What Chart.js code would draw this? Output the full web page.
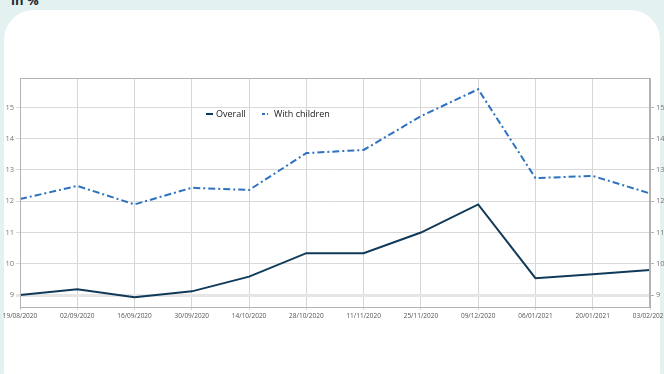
<!DOCTYPE html>
<html>
<head>
  <meta charset="UTF-8">
  <title>Overall / With children</title>
  <script src="https://cdn.jsdelivr.net/npm/chart.js@4/dist/chart.umd.min.js"></script>
  <style>
    html, body { margin: 0; padding: 0; }
    body { width: 664px; height: 374px; overflow: hidden; background: #e3f1f1; position: relative;
           font-family: "Open Sans", sans-serif; }
    #card { position: absolute; left: 4px; top: 10px; width: 656px; height: 390px;
            background: #fff; border-radius: 30px; }
    #title { position: absolute; left: 11px; top: -9px; font-size: 13px; font-weight: bold; color: #1d2b33; }
    #wrap { position: absolute; left: 0; top: 0; width: 664px; height: 374px; }
  </style>
</head>
<body>
<div id="title">in %</div>
<div id="card"></div>
<div id="wrap"><canvas id="myChart" width="664" height="374"></canvas></div>
<script>
  // dates (fortnightly)
  var labels = ["19/08/2020", "02/09/2020", "16/09/2020", "30/09/2020", "14/10/2020", "28/10/2020",
                "11/11/2020", "25/11/2020", "09/12/2020", "06/01/2021", "20/01/2021", "03/02/2021"];
  var overall = [9.0, 9.19, 8.93, 9.12, 9.59, 10.34, 10.34, 11.0, 11.9, 9.54, 9.67, 9.8];
  var withChildren = [12.07, 12.49, 11.9, 12.43, 12.36, 13.54, 13.64, 14.72, 15.58, 12.74, 12.81, 12.25];
  var yTicks = [9, 10, 11, 12, 13, 14, 15];

  var navy = "#0f3a59";
  var blue = "#2e72bf";

  function setTicks(scale) {
    scale.ticks = yTicks.map(function(v) { return { value: v }; });
  }

  // border round the plot + legend written inside the plot
  var framePlugin = {
    id: "frame",
    afterDraw: function(chart) {
      var ctx = chart.ctx, a = chart.chartArea;
      ctx.save();
      ctx.strokeStyle = "#b3b3b3";
      ctx.lineWidth = 1;
      ctx.strokeRect(Math.round(a.left) + 0.5, Math.round(a.top) + 0.5,
                     Math.round(a.right - a.left) - 1, Math.round(a.bottom - a.top));
      // legend
      var lx = a.left + 186, ly = a.top + 36;
      ctx.font = "9px 'Open Sans'";
      ctx.textBaseline = "middle";
      ctx.fillStyle = "#222";
      ctx.strokeStyle = navy;
      ctx.lineWidth = 2;
      ctx.beginPath(); ctx.moveTo(lx, ly); ctx.lineTo(lx + 7, ly); ctx.stroke();
      ctx.fillText("Overall", lx + 10, ly);
      var lx2 = lx + 56;
      ctx.strokeStyle = blue;
      ctx.setLineDash([3, 2, 1, 2]);
      ctx.beginPath(); ctx.moveTo(lx2, ly); ctx.lineTo(lx2 + 8, ly); ctx.stroke();
      ctx.setLineDash([]);
      ctx.fillText("With children", lx2 + 12, ly);
      ctx.restore();
    }
  };

  new Chart(document.getElementById("myChart"), {
    type: "line",
    data: {
      labels: labels,
      datasets: [{
        label: "Overall",
        data: overall,
        borderColor: navy,
        borderWidth: 2,
        pointRadius: 0,
        tension: 0
      }, {
        label: "With children",
        data: withChildren,
        borderColor: blue,
        borderWidth: 2,
        borderDash: [7, 3, 2, 3],
        pointRadius: 0,
        tension: 0
      }]
    },
    options: {
      responsive: false,
      animation: false,
      layout: { padding: { top: 78, bottom: 47, left: 0, right: 0 } },
      plugins: { legend: { display: false }, tooltip: { enabled: false } },
      scales: {
        x: {
          grid: { color: "#d6d6d6", tickLength: 3 },
          border: { color: "#b3b3b3" },
          ticks: { color: "#555", font: { size: 6.5, family: "Open Sans" }, maxRotation: 0,
                   autoSkip: false, padding: 2 },
          afterFit: function(s) { s.height = 20; s.paddingLeft = 0; s.paddingRight = 0; }
        },
        y: {
          position: "left",
          min: 8.62, max: 15.94,
          afterBuildTicks: setTicks,
          grid: { tickLength: 4,
                  color: function(c) { return c.tick && c.tick.value === 9 ? "#e6e6e6" : "#d9d9d9"; },
                  lineWidth: function(c) { return c.tick && c.tick.value === 9 ? 3 : 1; } },
          border: { color: "#b3b3b3" },
          ticks: { color: "#777", font: { size: 7.5, family: "Open Sans" }, padding: 2 },
          afterFit: function(s) { s.width = 20; }
        },
        y2: {
          position: "right",
          min: 8.62, max: 15.94,
          afterBuildTicks: setTicks,
          grid: { drawOnChartArea: false, color: "#b3b3b3", tickLength: 4 },
          border: { color: "#b3b3b3" },
          ticks: { color: "#777", font: { size: 7.5, family: "Open Sans" }, padding: 2 },
          afterFit: function(s) { s.width = 14; }
        }
      }
    },
    plugins: [framePlugin]
  });
</script>
</body>
</html>
